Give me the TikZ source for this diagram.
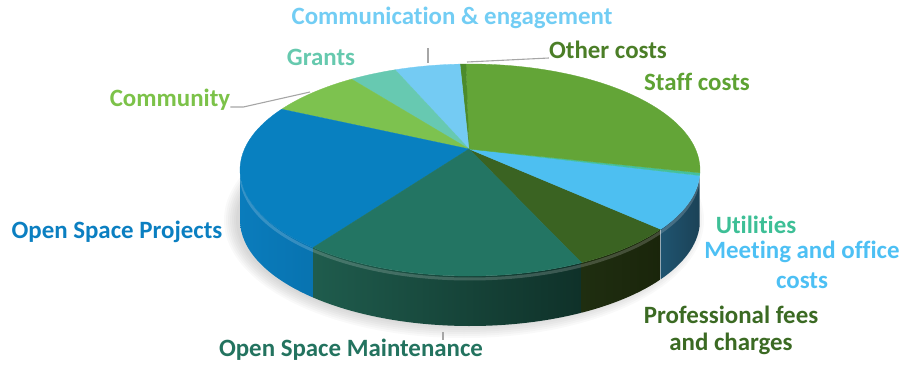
\documentclass[tikz,border=0pt]{standalone}
\usepackage{fontspec}
\setmainfont{Carlito}[Ligatures=NoCommon]
\definecolor{prof}{HTML}{3A6322}
\definecolor{meet}{HTML}{4DBFF1}
\definecolor{util}{HTML}{44C09C}
\definecolor{staff}{HTML}{63A537}
\definecolor{other}{HTML}{4C8B2B}
\definecolor{comm}{HTML}{74CBF3}
\definecolor{grant}{HTML}{67C9B1}
\definecolor{cmty}{HTML}{7DC24F}
\definecolor{proj}{HTML}{0880C0}
\definecolor{maint}{HTML}{237563}
\definecolor{projSa}{HTML}{0A7CBC}
\definecolor{projSb}{HTML}{0873B0}
\definecolor{maintSa}{HTML}{1F5C4D}
\definecolor{maintSb}{HTML}{0F3129}
\definecolor{profSa}{HTML}{1F2E10}
\definecolor{profSb}{HTML}{1A250B}
\definecolor{meetSa}{HTML}{1F5470}
\definecolor{meetSb}{HTML}{1B4257}
\definecolor{utilS}{HTML}{2A6B5A}
\definecolor{staffS}{HTML}{3E6D22}
\definecolor{commT}{HTML}{72CDF4}
\definecolor{otherT}{HTML}{4B7E27}
\definecolor{staffT}{HTML}{5EA233}
\definecolor{grantT}{HTML}{66C9AE}
\definecolor{cmtyT}{HTML}{7CC249}
\definecolor{projT}{HTML}{0B7FC1}
\definecolor{maintT}{HTML}{23735F}
\definecolor{utilT}{HTML}{3DBF96}
\definecolor{meetT}{HTML}{4DC0F4}
\definecolor{profT}{HTML}{3B6A23}

\begin{document}
\begin{tikzpicture}[x=1bp,y=1bp,
		lbl/.style={font=\fontsize{25}{29}\selectfont\bfseries, inner sep=0pt},
		leader/.style={draw=black!35, line width=1.1bp},
		ell/.style={x radius=230, y radius=106}]
	\useasboundingbox (0,0) rectangle (902,364);
	\coordinate (ctr) at (470,194);
	\coordinate (apex) at (469,215);
	\foreach \i in {2,4,...,14}
		\fill[black, opacity=.025] ([shift={(-6,-50)}]ctr) ellipse[x radius=226+\i, y radius=104+\i];
	\foreach \a/\b/\l/\r in {180/227/projSa/projSb, 227/299/maintSa/maintSb, 299/326/profSa/profSb,
			326/357/meetSa/meetSb, 357/358.5/utilS/utilS, 358.5/360/staffS/staffS}
		\shade[left color=\l, right color=\r] ([shift={(\a:230 and 106)}]ctr) arc[start angle=\a, end angle=\b, ell]
			-- ++(0,-50) arc[start angle=\b, end angle=\a, ell] -- cycle;
	\draw[white, opacity=.18, line width=3bp] ([shift={(182:229 and 105)}]ctr) ++(0,-4)
		arc[start angle=182, end angle=358, x radius=229, y radius=105];
	\foreach \a/\b/\c in {-61/-34/prof, -34/-3/meet, -3/-1.5/util, -1.5/91/staff, 91/92.5/other,
			92.5/109/comm, 109/121/grant, 121/145/cmty, 145/227/proj, 227/299/maint}
		\filldraw[fill=\c, draw=\c, line width=.3bp] (apex) -- ([shift={(\a:230 and 106)}]ctr)
			arc[start angle=\a, end angle=\b, ell] -- cycle;
	\node[lbl, text=commT] (comm) at (452,346) {Communication \& engagement};
	\node[lbl, text=otherT] (other) at (608,314) {Other costs};
	\node[lbl, text=staffT] (staff) at (697,282) {Staff costs};
	\node[lbl, text=grantT] (grants) at (321,307) {Grants};
	\node[lbl, text=cmtyT] (community) at (170,264) {Community};
	\node[lbl, text=projT] (projects) at (117,132) {Open Space Projects};
	\node[lbl, text=maintT] (maint) at (351,14) {Open Space Maintenance};
	\node[lbl, text=utilT] (util) at (756,139) {Utilities};
	\node[lbl, text=meetT, align=center, font=\fontsize{25}{30}\selectfont\bfseries] (meet) at (802,99) {Meeting and office\\costs};
	\node[lbl, text=profT, align=center, font=\fontsize{25}{27}\selectfont\bfseries] (prof) at (731,34) {Professional fees\\and charges};
	\coordinate (pin-cmty) at (310,272);
	\coordinate (pin-comm) at (428,301);
	\coordinate (pin-other) at (467,302);
	\coordinate (pin-maint) at (443,32);
	\draw[leader] ([yshift=-7bp]community.east) -- ++(13,0) -- (pin-cmty);
	\draw[leader] (pin-comm) -- ++(0,15);
	\draw[leader] (pin-other) -- ([yshift=-8bp]other.west);
	\draw[leader] (pin-maint) -- ++(0,-8);
\end{tikzpicture}
\end{document}
